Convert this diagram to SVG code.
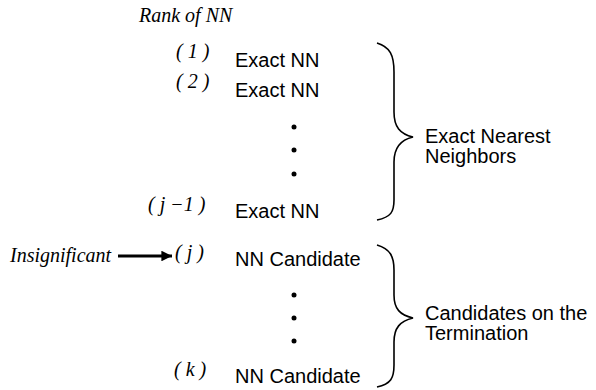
<svg xmlns="http://www.w3.org/2000/svg" width="596" height="390" viewBox="0 0 596 390">
  <defs>
    <style>
      .sans { font-family: "Liberation Sans", Arial, sans-serif; font-size: 20px; fill: #000; }
      .ital { font-family: "Liberation Serif", "Times New Roman", serif; font-style: italic; font-size: 20px; fill: #000; }
      .brace { fill: none; stroke: #000; stroke-width: 1.6; }
      .dot { fill: #000; }
    </style>
    <marker id="head" viewBox="0 0 10 10" refX="10" refY="5" markerWidth="7.5" markerHeight="3.8" markerUnits="strokeWidth" orient="auto">
      <path d="M0,0 L10,5 L0,10 Z" fill="#000"/>
    </marker>
  </defs>

  <text class="ital" x="139" y="22">Rank of NN</text>

  <g id="rank-1">
    <text class="ital" x="176" y="58">( 1 )</text>
    <text class="sans" x="235" y="67">Exact NN</text>
  </g>
  <g id="rank-2">
    <text class="ital" x="176" y="88">( 2 )</text>
    <text class="sans" x="235" y="97">Exact NN</text>
  </g>
  <g id="dots-exact">
    <circle class="dot" cx="294" cy="127" r="2.5"/>
    <circle class="dot" cx="294" cy="150" r="2.5"/>
    <circle class="dot" cx="294" cy="174" r="2.5"/>
  </g>
  <g id="rank-j-1">
    <text class="ital" x="148" y="211">( j −1 )</text>
    <text class="sans" x="235" y="218">Exact NN</text>
  </g>
  <g id="rank-j">
    <text class="ital" x="175" y="259">( j )</text>
    <text class="sans" x="235" y="266">NN Candidate</text>
  </g>
  <g id="insignificant">
    <text class="ital" x="10" y="262">Insignificant</text>
  </g>
  <g id="dots-candidates">
    <circle class="dot" cx="294" cy="295" r="2.5"/>
    <circle class="dot" cx="294" cy="318" r="2.5"/>
    <circle class="dot" cx="294" cy="341" r="2.5"/>
  </g>
  <g id="rank-k">
    <text class="ital" x="174" y="376">( k )</text>
    <text class="sans" x="235" y="383">NN Candidate</text>
  </g>

  <g id="group-exact">
    <path class="brace" d="M377,43 C390,47 394,55 394,72 L394,112 C394,127 400,134 413,137 C400,140 394,148 394,162 L394,200 C394,212 391,217 377,220"/>
    <text class="sans" x="425" y="143">Exact Nearest</text>
    <text class="sans" x="425" y="163">Neighbors</text>
  </g>
  <g id="group-candidates">
    <path class="brace" d="M377,245 C390,249 394,256 394,270 L394,295 C394,309 400,315 413,318 C400,321 394,328 394,342 L394,365 C394,378 391,384 377,387"/>
    <text class="sans" x="425" y="320">Candidates on the</text>
    <text class="sans" x="425" y="340">Termination</text>
  </g>

  <g id="connectors">
    <line x1="118" y1="256" x2="172" y2="256" stroke="#000" stroke-width="2.8" marker-end="url(#head)"/>
  </g>
</svg>
